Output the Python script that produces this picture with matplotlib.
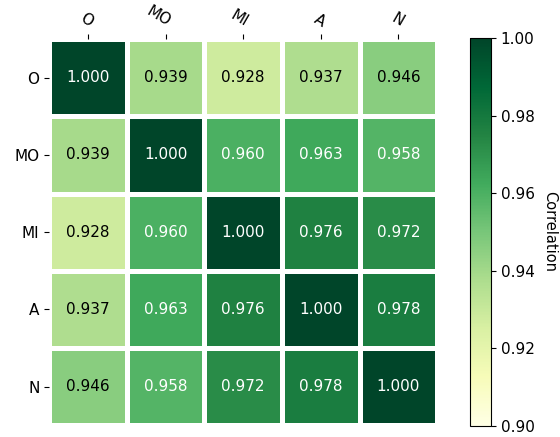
import numpy as np
import matplotlib
matplotlib.use("Agg")
import matplotlib.pyplot as plt

labels = ["O", "MO", "MI", "A", "N"]
corr = np.array([
    [1.000, 0.939, 0.928, 0.937, 0.946],
    [0.939, 1.000, 0.960, 0.963, 0.958],
    [0.928, 0.960, 1.000, 0.976, 0.972],
    [0.937, 0.963, 0.976, 1.000, 0.978],
    [0.946, 0.958, 0.972, 0.978, 1.000],
])

fig = plt.figure(figsize=(5.6, 4.37), dpi=100)
ax = fig.add_axes([0.0879, 0.027, 0.6929, 0.8833])
cax = fig.add_axes([0.8393, 0.0259, 0.0375, 0.8865])

im = ax.imshow(corr, cmap="YlGn", vmin=0.90, vmax=1.00, aspect="auto",
               interpolation="nearest", zorder=0)

ax.set_xticks(np.arange(len(labels)))
ax.set_yticks(np.arange(len(labels)))
ax.set_xticklabels(labels)
ax.set_yticklabels(labels)
ax.tick_params(top=True, bottom=False, labeltop=True, labelbottom=False, labelsize=11)
plt.setp(ax.get_xticklabels(), rotation=-30, ha="right", rotation_mode="anchor")
for s in ax.spines.values():
    s.set_visible(False)

# white separators between (and around) the cells, beneath the tick marks
n = len(labels)
for k in np.arange(n + 1) - 0.5:
    ax.axvline(k, color="white", linewidth=3.6, clip_on=False, zorder=1)
    ax.axhline(k, color="white", linewidth=3.6, clip_on=False, zorder=1)

for i in range(corr.shape[0]):
    for j in range(corr.shape[1]):
        v = corr[i, j]
        ax.text(j, i, f"{v:.3f}", ha="center", va="center", fontsize=11,
                color="white" if v > 0.95 else "black", zorder=4)

cb = fig.colorbar(im, cax=cax)
cb.set_label("Correlation", rotation=-90, va="bottom", fontsize=10.5, labelpad=5)
cb.ax.tick_params(labelsize=11)
cb.set_ticks([0.90, 0.92, 0.94, 0.96, 0.98, 1.00])

fig.savefig("out.png", dpi=100)
